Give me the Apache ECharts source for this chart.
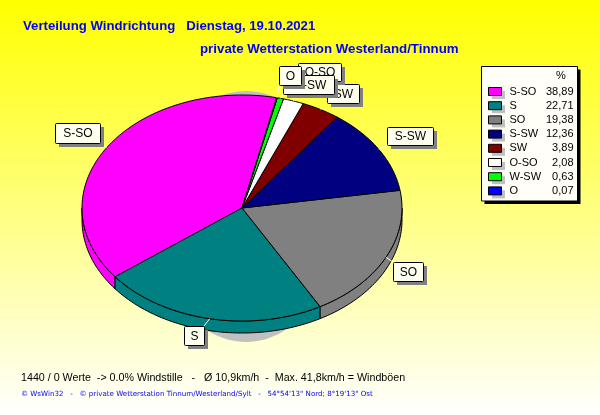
<!DOCTYPE html>
<html><head><meta charset="utf-8">
<style>html,body{margin:0;padding:0;background:#fff}#c{width:600px;height:415px}</style>
<script src="https://cdn.jsdelivr.net/npm/echarts@6/dist/echarts.min.js"></script>
</head><body><div id="c"></div>
<script>
const categories = ['S-SO','S','SO','S-SW','SW','O-SO','W-SW','O'];
const percentValues = [38.89,22.71,19.38,12.36,3.89,2.08,0.63,0.07];
const valueLabels = ['38,89','22,71','19,38','12,36','3,89','2,08','0,63','0,07'];
const titleText = 'Verteilung Windrichtung   Dienstag, 19.10.2021';
const subtitleText = 'private Wetterstation Westerland/Tinnum';
const footerText = '1440 / 0 Werte  -> 0.0% Windstille   -   Ø 10,9km/h  -  Max. 41,8km/h = Windböen';
const creditText = '© WsWin32   -   © private Wetterstation Tinnum/Westerland/Sylt   -   54°54\'13" Nord; 8°19\'13" Ost';

const colors = ['#ff00ff','#008080','#808080','#000080','#800000','#ffffff','#00ff00','#0000ff'];
const labelBoxes = [[55,123,45,20],[184,326,20,19],[393,262,30,19],[387,127,46,18],[327,84,32,19],[298,63,43,18],[283,75,51,19],[279,66,22,19]];
const pie = {cx:242, cy:208, rx:160, ry:113, depth:12, startDeg:77.5};
const total = percentValues.reduce((a,b)=>a+b,0);
const starts = percentValues.map((_,i)=>percentValues.slice(0,i).reduce((a,b)=>a+b,0));

function ePoint(deg, dy){
  const t = deg*Math.PI/180;
  return [pie.cx+pie.rx*Math.cos(t), pie.cy-pie.ry*Math.sin(t)+(dy||0)];
}
function arc(a,b,dy){
  const n = Math.max(2,Math.ceil(Math.abs(b-a)/1.5)), pts=[];
  for(let i=0;i<=n;i++) pts.push(ePoint(a+(b-a)*i/n,dy));
  return pts;
}
function makeRender(i){
  return function(params, api){
    const value = api.value(0), start = api.value(1);
    const a = pie.startDeg+start/total*360, b = a+value/total*360;
    const children = [];
    const style = {fill:colors[i], stroke:'#000', lineWidth:1};
    [[180,360],[540,720]].forEach(r=>{
      const lo=Math.max(a,r[0]), hi=Math.min(b,r[1]);
      if(hi>lo){
        children.push({type:'polygon',shape:{points:arc(lo,hi,0).concat(arc(hi,lo,pie.depth))},style,z2:1});
      }
    });
    children.push({type:'polygon',shape:{points:[[pie.cx,pie.cy]].concat(arc(a,b,0))},style,z2:2});
    const box = labelBoxes[i], mid = ePoint((a+b)/2,0);
    const end = [Math.min(Math.max(mid[0],box[0]),box[0]+box[2]), Math.min(Math.max(mid[1],box[1]),box[1]+box[3])];
    children.push({type:'line',shape:{x1:mid[0],y1:mid[1],x2:end[0],y2:end[1]},style:{stroke:'#ffffe8',lineWidth:1},z2:3});
    const z = 10+i*3;
    children.push({type:'rect',shape:{x:box[0]+4,y:box[1]+4,width:box[2],height:box[3]},style:{fill:'#808080'},z2:z});
    children.push({type:'rect',shape:{x:box[0]+.5,y:box[1]+.5,width:box[2],height:box[3],r:1},style:{fill:'#fffff0',stroke:'#000',lineWidth:1},z2:z+1});
    children.push({type:'text',style:{text:categories[i],x:box[0]+box[2]/2+.5,y:box[1]+box[3]/2+1,align:'center',verticalAlign:'middle',font:'12px "Liberation Sans"',fill:'#000'},z2:z+2});
    return {type:'group',children};
  };
}
const series = categories.map((name,i)=>({
  name, type:'custom', coordinateSystem:'none', silent:true, animation:false,
  itemStyle:{color:colors[i]},
  data:[[percentValues[i],starts[i]]],
  renderItem:makeRender(i)
}));
const blue = '#0000ff';
const legendBox = {x:481.5, y:66.5, width:96, height:134.5};
const swatchShadows = categories.map((_,i)=>({
  type:'rect', z:3, silent:true, shape:{x:492, y:91+i*14.2, width:13, height:8}, style:{fill:'#c0c0c0'}
}));
const chart = echarts.init(document.getElementById('c'),null,{renderer:'canvas'});
chart.setOption({
  animation:false,
  backgroundColor:{type:'linear',x:0,y:0,x2:0,y2:1,colorStops:[{offset:0,color:'#ffff00'},{offset:1,color:'#ffffff'}]},
  title:[
    {text:titleText,left:23,top:19,padding:0,textStyle:{color:blue,fontFamily:'Liberation Sans',fontSize:13.2,fontWeight:'bold',lineHeight:14}},
    {text:subtitleText,left:200,top:42,padding:0,textStyle:{color:blue,fontFamily:'Liberation Sans',fontSize:13.3,fontWeight:'bold',lineHeight:14}},
    {text:footerText,left:21,top:371,padding:0,textStyle:{color:'#000',fontFamily:'Liberation Sans',fontSize:10.7,fontWeight:'normal',lineHeight:14}},
    {text:creditText,left:21,top:389,padding:0,textStyle:{color:blue,fontFamily:'DejaVu Sans',fontSize:7.1,fontWeight:'normal',lineHeight:10}},
    {text:'%',left:556,top:70,padding:0,z:20,textStyle:{color:'#000',fontFamily:'Liberation Sans',fontSize:11,fontWeight:'normal',lineHeight:12}}
  ],
  legend:{
    orient:'vertical',left:481,top:66,padding:[20,5,6,7],itemGap:3.2,itemWidth:13,itemHeight:8,
    selectedMode:false,icon:'rect',
    itemStyle:{borderColor:'#000',borderWidth:1},
    data:categories,
    formatter:n=>`{n|${n}}{v|${valueLabels[categories.indexOf(n)]}}`,
    textStyle:{rich:{
      n:{width:34,padding:[0,0,0,3],fontFamily:'Liberation Sans',fontSize:11,color:'#000'},
      v:{width:30,align:'right',fontFamily:'Liberation Sans',fontSize:11,color:'#000'}
    }}
  },
  graphic:[
    {type:'ellipse',z:0,silent:true,shape:{cx:246,cy:216.5,rx:92,ry:125.5},style:{fill:'#c0c0c0'}},
    {type:'rect',z:3,silent:true,shape:{x:legendBox.x+3,y:legendBox.y+3,width:legendBox.width,height:legendBox.height},style:{fill:'#000'}},
    {type:'rect',z:3,silent:true,shape:legendBox,style:{fill:'#fffff8',stroke:'#000',lineWidth:1}}
  ].concat(swatchShadows),
  series
});
</script></body></html>
